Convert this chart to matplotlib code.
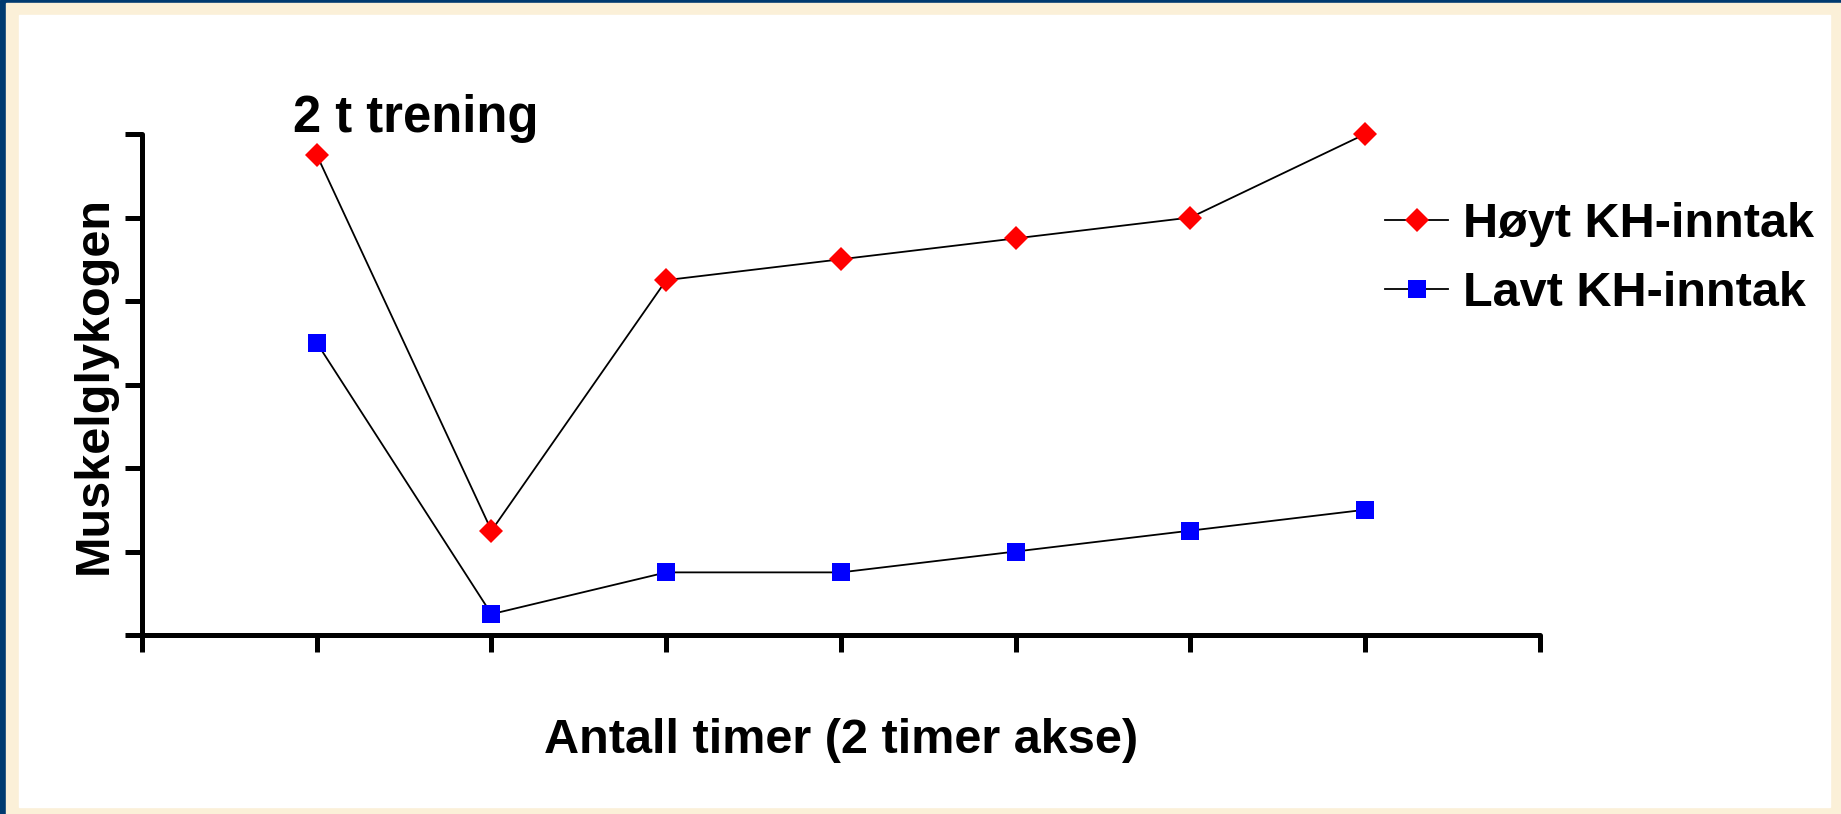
import matplotlib.pyplot as plt
from matplotlib.patches import Rectangle

# timer (2 timer akse) og glykogennivå
timer = [1, 2, 3, 4, 5, 6, 7]
hoyt_kh = [5.75, 1.25, 4.25, 4.5, 4.75, 5.0, 6.0]
lavt_kh = [3.5, 0.25, 0.75, 0.75, 1.0, 1.25, 1.5]
serie_navn = ['Høyt KH-inntak', 'Lavt KH-inntak']

plt.rcParams['font.family'] = ['Liberation Sans', 'DejaVu Sans']
plt.rcParams['font.weight'] = 'bold'

W, H = 1841, 814
fig = plt.figure(figsize=(W / 100, H / 100), dpi=100)

# ramme: mørkeblå kant, kremfarget bord, hvit flate
fig.patches.append(Rectangle((0, 0), 1, 1, transform=fig.transFigure,
                             color='#003a70', zorder=-3))
fig.patches.append(Rectangle((6 / W, 0), 1, 1 - 3 / H, transform=fig.transFigure,
                             color='#fbf0d8', zorder=-2))
fig.patches.append(Rectangle((19 / W, 7 / H), (1830 - 19) / W, (807 - 15) / H,
                             transform=fig.transFigure, color='white', zorder=-1))

ax = fig.add_axes([142 / W, 1 - 635 / H, (1540 - 142) / W, (635 - 134) / H])
ax.patch.set_alpha(0)

l1, = ax.plot(timer, hoyt_kh, color='black', lw=1.3, marker='D', ms=12,
              mfc='red', mec='red', mew=0, label=serie_navn[0], zorder=3,
              clip_on=False)
l2, = ax.plot(timer, lavt_kh, color='black', lw=1.3, marker='s', ms=12.5,
              mfc='blue', mec='blue', mew=0, label=serie_navn[1], zorder=3,
              clip_on=False)

ax.set_xlim(0, 8)
ax.set_ylim(0, 6)
ax.set_xticks(range(0, 9))
ax.set_yticks(range(0, 7))
ax.set_xticklabels([])
ax.set_yticklabels([])
for s in ['top', 'right']:
    ax.spines[s].set_visible(False)
for s in ['left', 'bottom']:
    ax.spines[s].set_linewidth(3.6)
    ax.spines[s].set_capstyle('round')
ax.tick_params(direction='out', length=12, width=3.6)
for t in ax.xaxis.get_ticklines() + ax.yaxis.get_ticklines():
    t.set_solid_capstyle('round')

ax.set_xlabel('Antall timer (2 timer akse)', fontsize=35, fontweight='bold', labelpad=44)
ax.set_ylabel('Muskelglykogen', fontsize=35, fontweight='bold', labelpad=3)

fig.text(293 / W, 1 - 132 / H, '2 t trening', fontsize=36.5, fontweight='bold',
         ha='left', va='baseline')

fig.legend(handles=[l1, l2], loc='center left', bbox_to_anchor=(1385 / W, 1 - 259 / H),
           frameon=False, fontsize=35, handlelength=1.3, handletextpad=0.3,
           labelspacing=0.5, borderpad=0, borderaxespad=0)

fig.savefig('out.png', dpi=100)
